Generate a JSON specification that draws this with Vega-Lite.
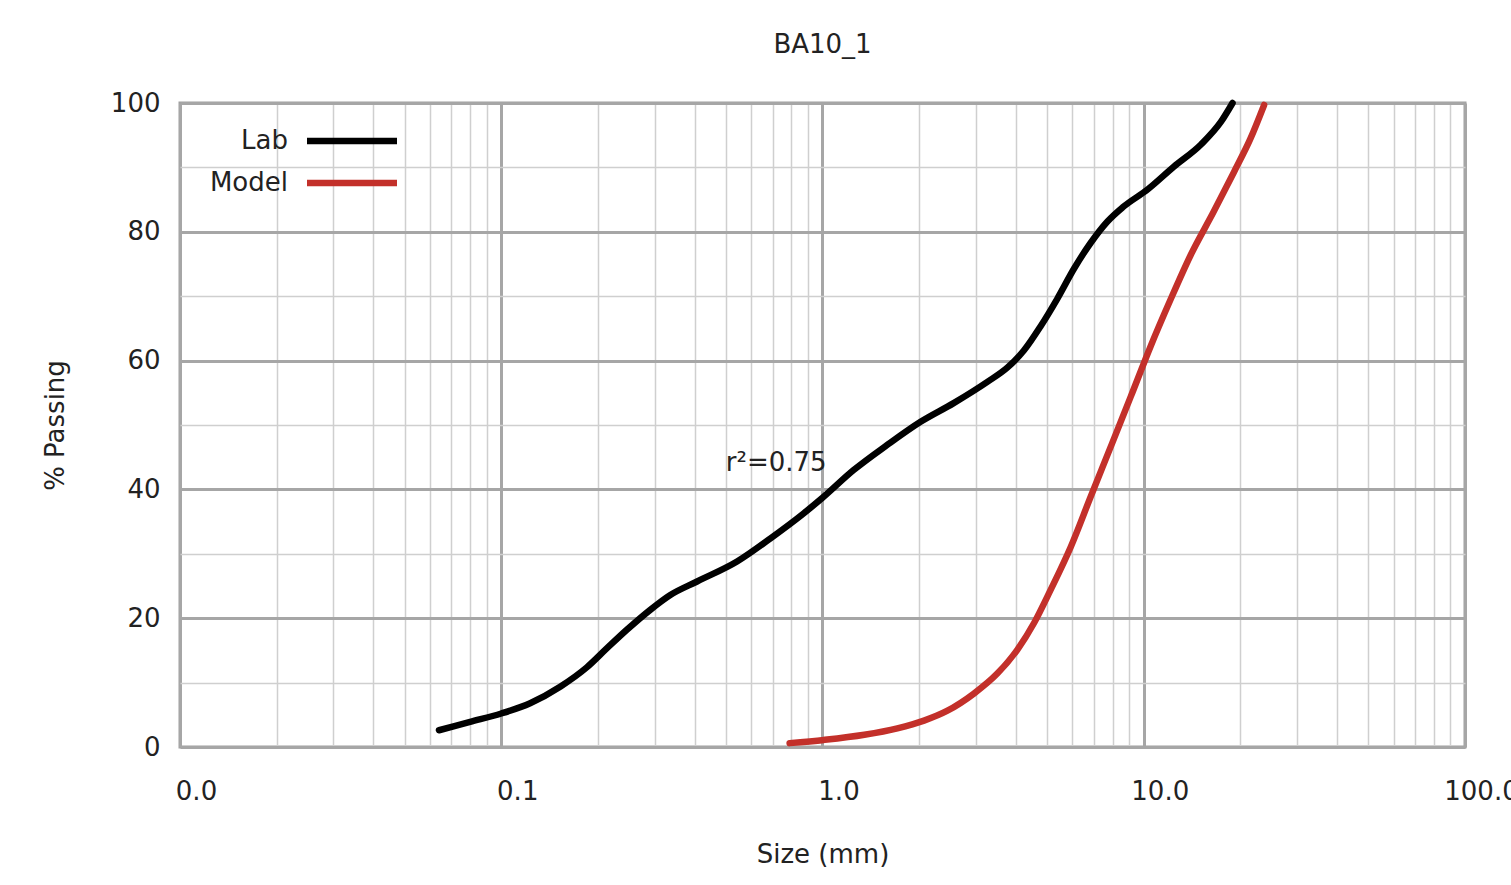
{
  "$schema": "https://vega.github.io/schema/vega-lite/v6.json",
  "autosize": {"type": "none"},
  "padding": {"left": 180, "top": 103, "right": 46, "bottom": 138},
  "width": 1285,
  "height": 644,
  "background": "white",
  "title": {"text": "BA10_1", "fontSize": 26, "font": "DejaVu Sans", "fontWeight": "normal", "color": "#222222", "offset": 32},
  "config": {
    "font": "DejaVu Sans",
    "view": {"stroke": "#a0a0a0", "strokeWidth": 3},
    "axis": {"labelColor": "#222222", "titleColor": "#222222", "labelFontSize": 26, "titleFontSize": 26, "titleFontWeight": "normal", "ticks": false, "domain": false, "labelOverlap": false, "labelFlush": false}
  },
  "data": {
    "values": [
      {"series": "Lab", "size": 0.064, "passing": 2.6},
      {"series": "Lab", "size": 0.08, "passing": 3.9},
      {"series": "Lab", "size": 0.1, "passing": 5.2},
      {"series": "Lab", "size": 0.123, "passing": 6.8},
      {"series": "Lab", "size": 0.153, "passing": 9.4},
      {"series": "Lab", "size": 0.185, "passing": 12.4},
      {"series": "Lab", "size": 0.213, "passing": 15.3},
      {"series": "Lab", "size": 0.246, "passing": 18.2},
      {"series": "Lab", "size": 0.291, "passing": 21.3},
      {"series": "Lab", "size": 0.336, "passing": 23.6},
      {"series": "Lab", "size": 0.407, "passing": 25.7},
      {"series": "Lab", "size": 0.542, "passing": 28.8},
      {"series": "Lab", "size": 0.689, "passing": 32.4},
      {"series": "Lab", "size": 0.875, "passing": 36.3},
      {"series": "Lab", "size": 1.0, "passing": 38.7},
      {"series": "Lab", "size": 1.25, "passing": 43.0},
      {"series": "Lab", "size": 1.59, "passing": 46.9},
      {"series": "Lab", "size": 2.02, "passing": 50.5},
      {"series": "Lab", "size": 2.56, "passing": 53.4},
      {"series": "Lab", "size": 3.26, "passing": 56.7},
      {"series": "Lab", "size": 3.76, "passing": 58.9},
      {"series": "Lab", "size": 4.24, "passing": 61.6},
      {"series": "Lab", "size": 4.77, "passing": 65.3},
      {"series": "Lab", "size": 5.38, "passing": 69.6},
      {"series": "Lab", "size": 6.07, "passing": 74.3},
      {"series": "Lab", "size": 6.84, "passing": 78.3},
      {"series": "Lab", "size": 7.71, "passing": 81.6},
      {"series": "Lab", "size": 8.6, "passing": 83.8},
      {"series": "Lab", "size": 10.3, "passing": 86.6},
      {"series": "Lab", "size": 12.4, "passing": 90.1},
      {"series": "Lab", "size": 15.1, "passing": 93.6},
      {"series": "Lab", "size": 17.4, "passing": 97.1},
      {"series": "Lab", "size": 18.9, "passing": 100},
      {"series": "Model", "size": 0.79, "passing": 0.6},
      {"series": "Model", "size": 1.01, "passing": 1.1},
      {"series": "Model", "size": 1.35, "passing": 1.9},
      {"series": "Model", "size": 1.71, "passing": 2.9},
      {"series": "Model", "size": 2.07, "passing": 4.1},
      {"series": "Model", "size": 2.44, "passing": 5.6},
      {"series": "Model", "size": 2.96, "passing": 8.3},
      {"series": "Model", "size": 3.5, "passing": 11.4},
      {"series": "Model", "size": 4.04, "passing": 15.1},
      {"series": "Model", "size": 4.56, "passing": 19.3},
      {"series": "Model", "size": 5.13, "passing": 24.4},
      {"series": "Model", "size": 5.93, "passing": 31.1},
      {"series": "Model", "size": 6.84, "passing": 38.9},
      {"series": "Model", "size": 7.89, "passing": 46.6},
      {"series": "Model", "size": 9.11, "passing": 54.4},
      {"series": "Model", "size": 10.5, "passing": 62.2},
      {"series": "Model", "size": 12.1, "passing": 69.4},
      {"series": "Model", "size": 14.0, "passing": 76.4},
      {"series": "Model", "size": 16.5, "passing": 83.1},
      {"series": "Model", "size": 19.1, "passing": 89.3},
      {"series": "Model", "size": 21.5, "passing": 94.5},
      {"series": "Model", "size": 23.7, "passing": 99.7}
    ]
  },
  "layer": [
    {
      "mark": {"type": "line", "strokeWidth": 6.5, "interpolate": "monotone", "strokeCap": "round"},
      "encoding": {
        "x": {
          "field": "size", "type": "quantitative",
          "scale": {"type": "log", "domain": [0.01, 100], "nice": false},
          "axis": {
            "title": "Size (mm)",
            "values": [0.01, 0.02, 0.03, 0.04, 0.05, 0.06, 0.07, 0.08, 0.09, 0.1, 0.2, 0.3, 0.4, 0.5, 0.6, 0.7, 0.8, 0.9, 1, 2, 3, 4, 5, 6, 7, 8, 9, 10, 20, 30, 40, 50, 60, 70, 80, 90, 100],
            "labelExpr": "abs(log(datum.value)/LN10 - round(log(datum.value)/LN10)) < 0.001 ? format(datum.value, '.1f') : ''",
            "gridColor": {"condition": {"test": "abs(log(datum.value)/LN10 - round(log(datum.value)/LN10)) < 0.001", "value": "#a6a6a6"}, "value": "#cfcfcf"},
            "gridWidth": {"condition": {"test": "abs(log(datum.value)/LN10 - round(log(datum.value)/LN10)) < 0.001", "value": 3}, "value": 1.5},
            "labelPadding": 31,
            "labelOffset": 16,
            "titlePadding": 37
          }
        },
        "y": {
          "field": "passing", "type": "quantitative",
          "scale": {"domain": [0, 100], "nice": false},
          "axis": {
            "title": "% Passing",
            "values": [0, 10, 20, 30, 40, 50, 60, 70, 80, 90, 100],
            "labelExpr": "datum.value % 20 == 0 ? datum.label : ''",
            "gridColor": {"condition": {"test": "datum.value % 20 == 0", "value": "#a6a6a6"}, "value": "#cfcfcf"},
            "gridWidth": {"condition": {"test": "datum.value % 20 == 0", "value": 3}, "value": 1.5},
            "labelPadding": 20,
            "titlePadding": 42
          }
        },
        "color": {
          "field": "series", "type": "nominal",
          "scale": {"domain": ["Lab", "Model"], "range": ["#000000", "#c3302a"]},
          "legend": {
            "orient": "none", "legendX": 159, "legendY": 25, "title": null,
            "symbolType": "M-5,0H5", "symbolSize": 324, "symbolStrokeWidth": 6.5,
            "labelFontSize": 26, "labelColor": "#222222", "labelAlign": "right", "labelOffset": -77,
            "rowPadding": 16, "padding": 0
          }
        }
      }
    },
    {
      "data": {"values": [{"note": "r²=0.75"}]},
      "mark": {"type": "text", "fontSize": 26, "color": "#222222", "align": "left", "baseline": "middle"},
      "encoding": {
        "text": {"field": "note", "type": "nominal"},
        "x": {"datum": 0.5},
        "y": {"datum": 44.1}
      }
    }
  ]
}
